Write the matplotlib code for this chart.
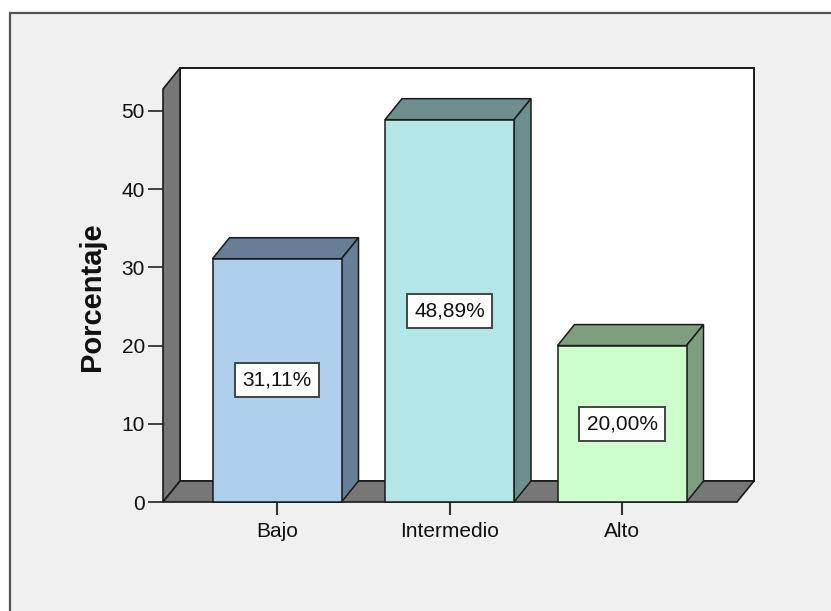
import matplotlib
matplotlib.use("Agg")
import matplotlib.pyplot as plt
from matplotlib.patches import Polygon, Rectangle

# Data
categories = ["Bajo", "Intermedio", "Alto"]
percentages = [31.11, 48.89, 20.00]
value_labels = ["31,11%", "48,89%", "20,00%"]
y_ticks = [0, 10, 20, 30, 40, 50]

front_colors = ["#AECFEC", "#B3E6E6", "#CCFFCC"]
shade_colors = ["#687E96", "#6E8E8E", "#7E9E7E"]
wall_color = "#777777"
edge_color = "#1a1a1a"

plt.rcParams["font.family"] = ["Liberation Sans", "DejaVu Sans"]

W, H = 831, 611
fig = plt.figure(figsize=(W / 100, H / 100), dpi=100, facecolor="white")

# Outer chart frame
frame = Rectangle((10 / W, -0.1), 1.2, 1.1 - 13 / H, transform=fig.transFigure,
                  facecolor="#F0F0F0", edgecolor="#555555", linewidth=1.6,
                  zorder=-10)
fig.patches.append(frame)

# Axes in pixel layout (front plane of the 3D box)
left_px, right_px = 163, 737
base_px, ytop_px = 502, 89
px_per_unit_y = (502 - 111) / 50.0
cat_px = (277, 622)
px_per_cat = (cat_px[1] - cat_px[0]) / 2.0

ax = fig.add_axes([left_px / W, 1 - base_px / H,
                   (right_px - left_px) / W, (base_px - ytop_px) / H])
ax.set_zorder(1)
ax.set_xlim((left_px - cat_px[0]) / px_per_cat, (right_px - cat_px[0]) / px_per_cat)
ax.set_ylim(0, (base_px - ytop_px) / px_per_unit_y)
ax.patch.set_alpha(0)
for s in ax.spines.values():
    s.set_visible(False)

depth_x_px, depth_y_px = 17, 21
dx = depth_x_px / px_per_cat
dy = depth_y_px / px_per_unit_y
x0, x1 = ax.get_xlim()
ytop = ax.get_ylim()[1]

# Back wall
ax.add_patch(Rectangle((x0 + dx, dy), x1 - x0, ytop, facecolor="white",
                       edgecolor=edge_color, linewidth=1.4, clip_on=False, zorder=1))
# Left wall
ax.add_patch(Polygon([(x0, 0), (x0, ytop), (x0 + dx, ytop + dy), (x0 + dx, dy)],
                     closed=True, facecolor=wall_color, edgecolor=edge_color,
                     linewidth=1.2, clip_on=False, zorder=2))
# Floor
ax.add_patch(Polygon([(x0, 0), (x1, 0), (x1 + dx, dy), (x0 + dx, dy)],
                     closed=True, facecolor=wall_color, edgecolor=edge_color,
                     linewidth=1.2, clip_on=False, zorder=2))

# 3D bars
bar_w = 129 / px_per_cat
for i, (v, fc, sc, lab) in enumerate(zip(percentages, front_colors, shade_colors, value_labels)):
    l, r = i - bar_w / 2, i + bar_w / 2
    ax.add_patch(Polygon([(l, v), (r, v), (r + dx, v + dy), (l + dx, v + dy)],
                         closed=True, facecolor=sc, edgecolor=edge_color,
                         linewidth=1.1, clip_on=False, zorder=3))
    ax.add_patch(Polygon([(r, 0), (r + dx, dy), (r + dx, v + dy), (r, v)],
                         closed=True, facecolor=sc, edgecolor=edge_color,
                         linewidth=1.1, clip_on=False, zorder=3))
    ax.add_patch(Rectangle((l, 0), bar_w, v, facecolor=fc, edgecolor=edge_color,
                           linewidth=1.1, clip_on=False, zorder=4))
    ax.text(i, v / 2, lab, ha="center", va="center", fontsize=15, color="#111111",
            zorder=6,
            bbox=dict(boxstyle="square,pad=0.36", facecolor="white",
                      edgecolor="#444444", linewidth=1.4))

# Axis ticks and labels
ax.set_yticks(y_ticks)
ax.set_yticklabels([str(t) for t in y_ticks])
ax.set_xticks(range(len(categories)))
ax.set_xticklabels(categories)
ax.tick_params(axis="y", direction="out", length=11, width=1.3, color="#333333",
               pad=2, labelsize=15, labelcolor="#111111")
ax.tick_params(axis="x", direction="out", length=9.5, width=1.5, color="#333333",
               pad=5, labelsize=15, labelcolor="#111111")

ax.text((92 - left_px) / (right_px - left_px), (base_px - 297) / (base_px - ytop_px),
        "Porcentaje", transform=ax.transAxes, rotation=90, ha="center", va="center",
        fontsize=21, fontweight="bold", color="#111111")

fig.savefig("out.png", dpi=100, facecolor=fig.get_facecolor())
